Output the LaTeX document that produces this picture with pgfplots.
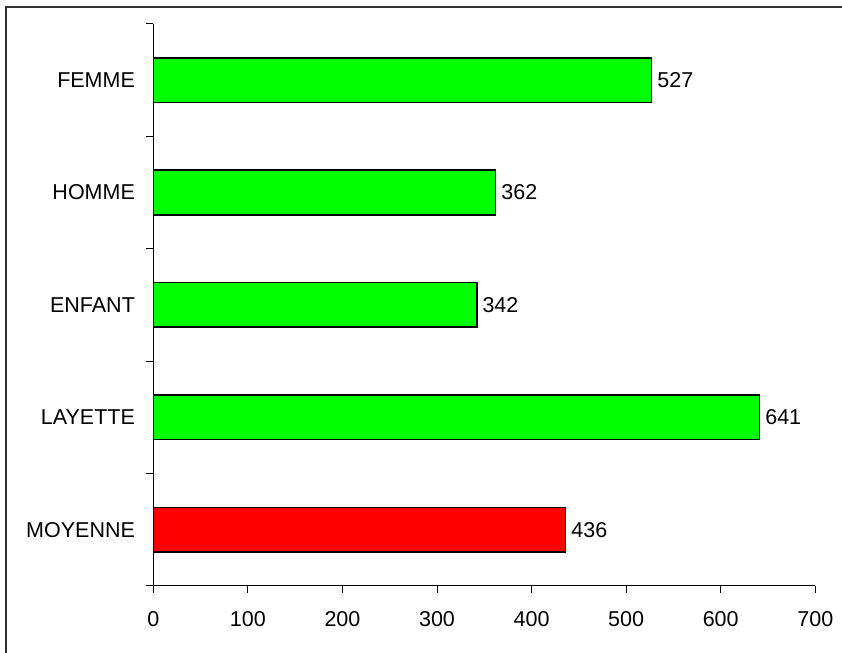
\documentclass[border=0pt]{standalone}
\usepackage{fontspec}
\setmainfont{Liberation Sans}
\usepackage{pgfplots}
\pgfplotsset{compat=1.18}
\definecolor{barGreen}{RGB}{0,255,0}
\definecolor{barRed}{RGB}{255,0,0}
\newcommand{\chartfont}{\fontsize{10.75}{12}\selectfont}
\begin{document}
\begin{tikzpicture}
\useasboundingbox (0,0) rectangle (421pt,326.5pt);
% outer chart frame
\draw[line width=1.1pt, black!80] (3pt,-20pt) rectangle (440pt,323pt);
\begin{axis}[
  at={(76.65pt,33.5pt)}, anchor=south west,
  scale only axis, width=331pt, height=281pt,
  xbar,
  xmin=0, xmax=700, ymin=-0.5, ymax=4.5,
  axis x line*=bottom, axis y line*=left,
  axis line style={-, line width=0.5pt, black},
  xtick={0,100,...,700},
  ytick={0,...,4},
  yticklabels={MOYENNE,LAYETTE,ENFANT,HOMME,FEMME},
  minor ytick={-0.5,0.5,...,4.5},
  tick align=outside,
  major tick length=3.5pt, minor tick length=3.5pt,
  major y tick style={draw=none},
  minor y tick style={black, line width=0.5pt},
  major x tick style={black, line width=0.5pt},
  /pgf/number format/assume math mode=true,
  tick label style={font=\chartfont},
  xticklabel style={anchor=north, inner sep=0pt, yshift=-9pt},
  yticklabel style={anchor=east, inner sep=0pt, xshift=-5.5pt},
  nodes near coords,
  every node near coord/.append style={font=\chartfont, anchor=west, inner sep=0pt, xshift=2.5pt, black},
]
\addplot[draw=black, line width=0.8pt, fill=barGreen, bar width=22.3pt, bar shift=0pt]
  coordinates {(641,1) (342,2) (362,3) (527,4)};
\addplot[draw=black, line width=0.8pt, fill=barRed, bar width=22.3pt, bar shift=0pt]
  coordinates {(436,0)};
\end{axis}
\end{tikzpicture}
\end{document}
